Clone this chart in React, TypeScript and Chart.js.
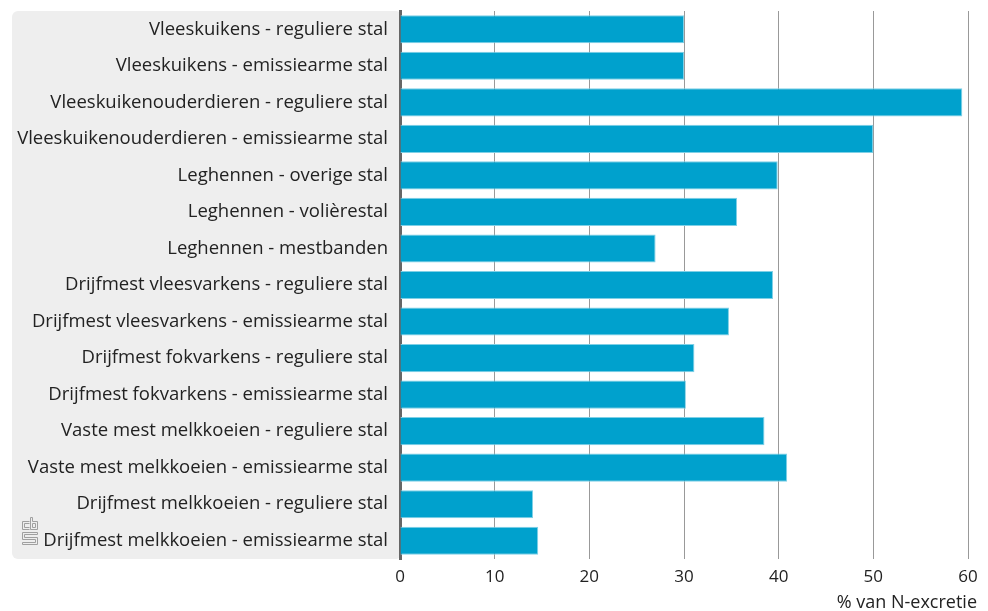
import React, { useEffect, useRef } from "react";
import { Chart, registerables } from "chart.js";

Chart.register(...registerables);

const categories = [
  "Vleeskuikens - reguliere stal",
  "Vleeskuikens - emissiearme stal",
  "Vleeskuikenouderdieren - reguliere stal",
  "Vleeskuikenouderdieren - emissiearme stal",
  "Leghennen - overige stal",
  "Leghennen - volièrestal",
  "Leghennen - mestbanden",
  "Drijfmest vleesvarkens - reguliere stal",
  "Drijfmest vleesvarkens - emissiearme stal",
  "Drijfmest fokvarkens - reguliere stal",
  "Drijfmest fokvarkens - emissiearme stal",
  "Vaste mest melkkoeien - reguliere stal",
  "Vaste mest melkkoeien - emissiearme stal",
  "Drijfmest melkkoeien - reguliere stal",
  "Drijfmest melkkoeien - emissiearme stal",
];

const values = [30.0, 30.0, 59.4, 50.0, 39.9, 35.6, 27.0, 39.4, 34.75, 31.1, 30.2, 38.5, 40.9, 14.05, 14.6];

const xTicks = [0, 10, 20, 30, 40, 50, 60];
const xTitle = "% van N-excretie";

const FONT = "'Open Sans', Roboto, sans-serif";

const panelPlugin = {
  id: "panel",
  beforeDraw(chart: any) {
    const { ctx, chartArea } = chart;
    const x0 = 12;
    const y0 = chartArea.top;
    const w = chartArea.left - x0;
    const h = chartArea.bottom - chartArea.top;
    ctx.save();
    ctx.fillStyle = "#eeeeee";
    ctx.beginPath();
    (ctx as any).roundRect(x0, y0, w + 2, h, 6);
    ctx.fill();
    // logo approximation
    ctx.strokeStyle = "#a0a0a0";
    ctx.lineWidth = 1;
    const lx = 22.5, ly = chartArea.bottom - 41.5;
    ctx.beginPath();
    // c
    ctx.moveTo(lx + 7, ly + 4);
    ctx.lineTo(lx, ly + 4);
    ctx.lineTo(lx, ly + 12);
    ctx.lineTo(lx + 7, ly + 12);
    ctx.moveTo(lx + 7, ly + 6);
    ctx.lineTo(lx + 2, ly + 6);
    ctx.lineTo(lx + 2, ly + 10);
    ctx.lineTo(lx + 7, ly + 10);
    // b
    ctx.moveTo(lx + 8, ly);
    ctx.lineTo(lx + 8, ly + 12);
    ctx.lineTo(lx + 15, ly + 12);
    ctx.lineTo(lx + 15, ly + 4);
    ctx.lineTo(lx + 10, ly + 4);
    ctx.lineTo(lx + 10, ly);
    ctx.closePath();
    ctx.rect(lx + 10, ly + 6, 3, 4);
    // S
    ctx.moveTo(lx + 15, ly + 15);
    ctx.lineTo(lx, ly + 15);
    ctx.lineTo(lx, ly + 22);
    ctx.lineTo(lx + 13, ly + 22);
    ctx.lineTo(lx + 13, ly + 25);
    ctx.lineTo(lx, ly + 25);
    ctx.lineTo(lx, ly + 27);
    ctx.lineTo(lx + 15, ly + 27);
    ctx.lineTo(lx + 15, ly + 20);
    ctx.lineTo(lx + 2, ly + 20);
    ctx.lineTo(lx + 2, ly + 17);
    ctx.lineTo(lx + 15, ly + 17);
    ctx.closePath();
    ctx.stroke();
    ctx.restore();
  },
  afterDraw(chart: any) {
    const { ctx, chartArea } = chart;
    ctx.save();
    ctx.fillStyle = "#222";
    ctx.font = "18px " + FONT;
    ctx.textAlign = "right";
    ctx.textBaseline = "middle";
    ctx.fillText(xTitle, chartArea.right + 9, chartArea.bottom + 44);
    ctx.restore();
  },
};

export default function App() {
  const ref = useRef<HTMLCanvasElement>(null);
  useEffect(() => {
    document.body.style.margin = "0";
    const chart = new Chart(ref.current!, {
      type: "bar",
      data: {
        labels: categories,
        datasets: [
          {
            data: values,
            backgroundColor: "#00a1cd",
            borderColor: "#7fd0e6",
            borderWidth: 1,
            barPercentage: 0.77,
            categoryPercentage: 1,
          },
        ],
      },
      options: {
        indexAxis: "y",
        animation: false,
        responsive: false,
        devicePixelRatio: 1,
        layout: { padding: { top: 11, right: 20, left: 0, bottom: 0 } },
        plugins: { legend: { display: false }, tooltip: { enabled: false } },
        scales: {
          x: {
            min: 0,
            max: 60,
            afterBuildTicks(scale: any) {
              scale.ticks = xTicks.map((v) => ({ value: v }));
            },
            afterFit(scale: any) {
              scale.height = 52;
              scale.paddingLeft = 0;
              scale.paddingRight = 0;
            },
            grid: {
              color: (c: any) => (c.tick && c.tick.value === 0 ? "rgba(0,0,0,0)" : "#999999"),
              lineWidth: 1,
              drawTicks: false,
            },
            border: { display: false },
            ticks: {
              padding: 8,
              color: "#222",
              font: { family: FONT, size: 17 },
            },
          },
          y: {
            grid: { display: false, drawTicks: false },
            border: { display: true, color: "#666666", width: 3 },
            afterFit(scale: any) {
              scale.width = 400;
              scale.paddingTop = 0;
              scale.paddingBottom = 0;
            },
            ticks: {
              padding: 12,
              color: "#222",
              font: { family: FONT, size: 18.5 },
            },
          },
        },
      },
      plugins: [panelPlugin],
    } as any);
    return () => chart.destroy();
  }, []);
  return (
    <div style={{ position: "absolute", left: 0, top: 0, width: 988, height: 611 }}>
      <canvas ref={ref} width={988} height={611} />
    </div>
  );
}
